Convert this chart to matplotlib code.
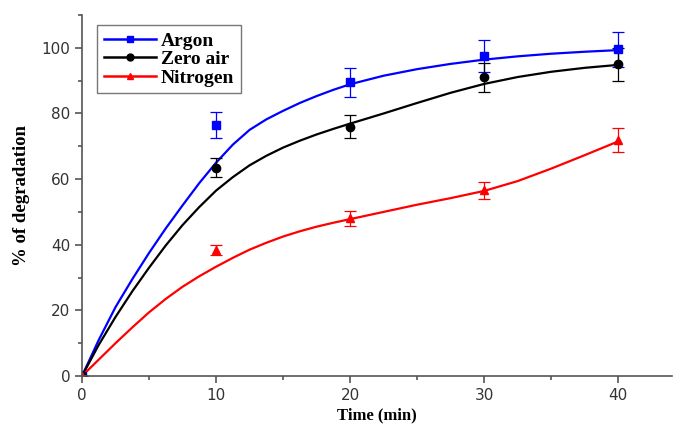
import matplotlib

matplotlib.use("Agg")
import matplotlib.pyplot as plt
from matplotlib.ticker import MultipleLocator

# Measured points (time in min, % degradation) with error bars
time_pts = [0, 10, 20, 30, 40]
argon_pts = [0, 76.5, 89.5, 97.5, 99.5]
argon_err = [0, 3.9, 4.4, 5.0, 5.3]
zero_air_pts = [0, 63.5, 76.0, 91.0, 95.0]
zero_air_err = [0, 3.0, 3.6, 4.5, 5.0]
nitrogen_pts = [0, 38.5, 48.0, 56.6, 72.0]
nitrogen_err = [0, 1.5, 2.3, 2.6, 3.7]

# Fitted curves
time_fit = [0, 1.25, 2.5, 3.75, 5, 6.25, 7.5, 8.75, 10, 11.25, 12.5, 13.75, 15,
            16.25, 17.5, 18.75, 20, 22.5, 25, 27.5, 30, 32.5, 35, 37.5, 40]
argon_fit = [0, 11, 21, 29.5, 37.5, 45, 52, 58.8, 65, 70.5, 75, 78.2, 80.8,
             83.2, 85.3, 87.2, 88.9, 91.5, 93.5, 95.1, 96.4, 97.4, 98.2, 98.8, 99.3]
zero_air_fit = [0, 9.5, 18, 25.8, 33, 39.8, 46, 51.5, 56.5, 60.6, 64.2, 67.1, 69.6,
                71.7, 73.6, 75.3, 76.9, 80.0, 83.2, 86.3, 89.0, 91.1, 92.7, 93.9, 94.8]
nitrogen_fit = [0, 5, 10, 14.8, 19.4, 23.5, 27.2, 30.4, 33.3, 36, 38.5, 40.6, 42.5,
                44.1, 45.5, 46.7, 47.8, 50, 52.2, 54.2, 56.4, 59.4, 63.2, 67.3, 71.5]

series = [
    ("Argon", argon_pts, argon_err, argon_fit, "#0000ff", "s"),
    ("Zero air", zero_air_pts, zero_air_err, zero_air_fit, "#000000", "o"),
    ("Nitrogen", nitrogen_pts, nitrogen_err, nitrogen_fit, "#ff0000", "^"),
]

fig = plt.figure(figsize=(6.75, 4.28), dpi=100)
ax = fig.add_axes([0.1215, 0.1215, 0.874, 0.8435])

for name, pts, err, fit, color, marker in series:
    ax.plot(time_fit, fit, color=color, linewidth=1.6, solid_joinstyle="round")
    ax.errorbar(time_pts, pts, yerr=err, fmt=marker, color=color, markersize=6,
                elinewidth=0.9, capsize=4, capthick=0.9)
    # legend entry: line with a small marker
    ax.plot([], [], color=color, linewidth=1.8, marker=marker, markersize=5, label=name)

ax.set_xlim(0, 44)
ax.set_ylim(0, 110)
ax.xaxis.set_major_locator(MultipleLocator(10))
ax.xaxis.set_minor_locator(MultipleLocator(5))
ax.yaxis.set_minor_locator(MultipleLocator(10))
ax.set_yticks([0, 20, 40, 60, 80, 100])

for side in ("top", "right"):
    ax.spines[side].set_visible(False)
for side in ("left", "bottom"):
    ax.spines[side].set_color("#555555")
    ax.spines[side].set_linewidth(1.2)

ax.tick_params(which="major", direction="out", length=5, width=1.2, color="#555555",
               labelsize=11, labelcolor="#333333")
ax.tick_params(which="minor", direction="out", length=3, width=1.2, color="#555555")
for lbl in ax.get_xticklabels() + ax.get_yticklabels():
    lbl.set_family("DejaVu Sans")

ax.set_xlabel("Time (min)", family="Liberation Serif", weight="bold", fontsize=12, labelpad=3)
ax.set_ylabel("% of degradation", family="Liberation Serif", weight="bold", fontsize=13.5,
              labelpad=8)

leg = ax.legend(loc="upper left", bbox_to_anchor=(0.025, 0.972), borderaxespad=0,
                frameon=True, fancybox=False,
                prop={"family": "Liberation Serif", "weight": "bold", "size": 14},
                handlelength=2.7, handletextpad=0.25, labelspacing=0.05, borderpad=0.35)
leg.get_frame().set_edgecolor("#555555")
leg.get_frame().set_linewidth(1.0)

fig.savefig("out.png", dpi=100)
